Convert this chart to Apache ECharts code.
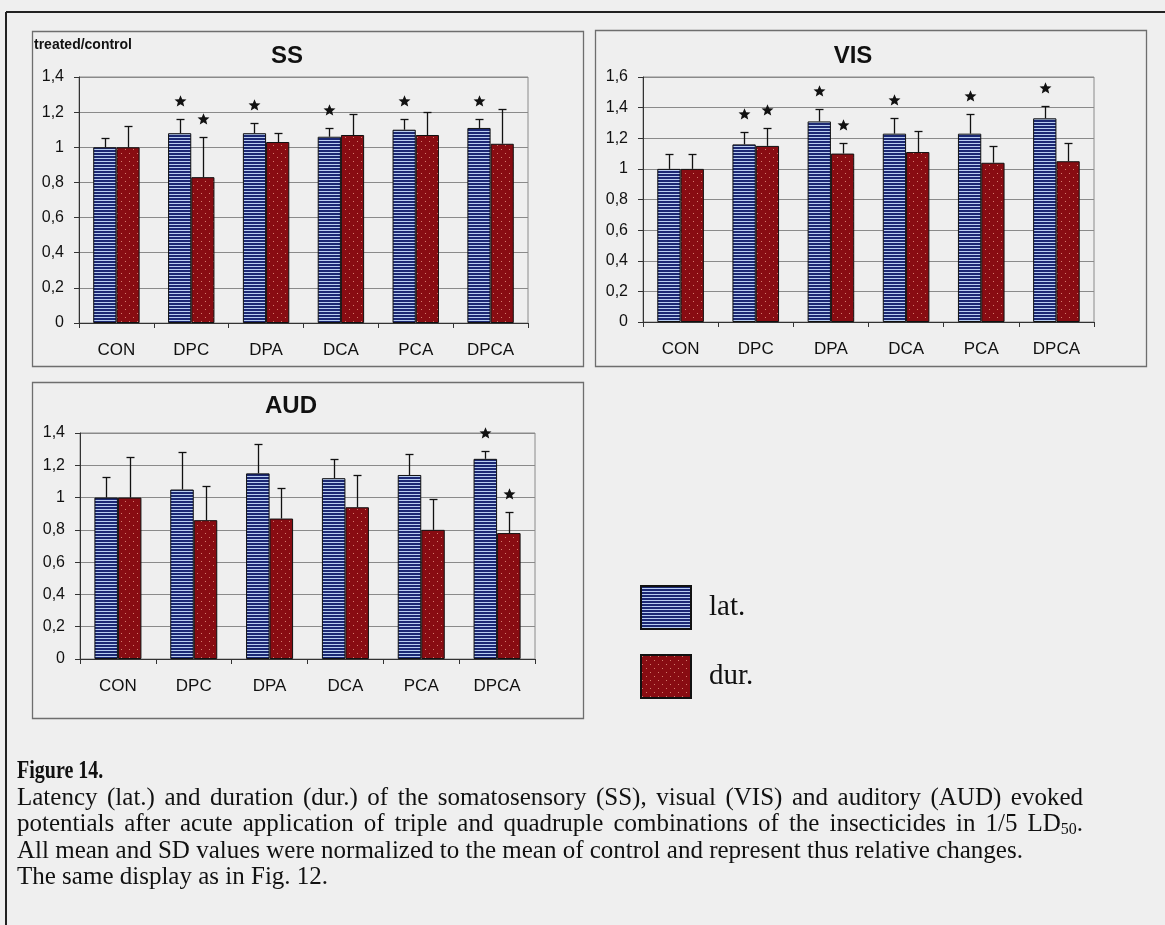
<!DOCTYPE html>
<html>
<head>
<meta charset="utf-8">
<script src="https://cdn.jsdelivr.net/npm/echarts@6/dist/echarts.min.js"></script>
<style>
  html, body { margin: 0; padding: 0; background: #efefef; }
  #chart { width: 1165px; height: 925px; }
</style>
</head>
<body>
<div id="chart"></div>
<script>
// ---------------- DATA ----------------
const categories = ['CON', 'DPC', 'DPA', 'DCA', 'PCA', 'DPCA'];
const seriesNames = ['lat.', 'dur.'];

// SS
const ssLat    = [1.00, 1.08, 1.08, 1.06, 1.10, 1.11];
const ssLatSD  = [0.05, 0.08, 0.06, 0.05, 0.06, 0.05];
const ssDur    = [1.00, 0.83, 1.03, 1.07, 1.07, 1.02];
const ssDurSD  = [0.12, 0.23, 0.05, 0.12, 0.13, 0.20];
const ssLatSig = [0, 1, 1, 1, 1, 1];
const ssDurSig = [0, 1, 0, 0, 0, 0];

// VIS
const visLat    = [1.00, 1.16, 1.31, 1.23, 1.23, 1.33];
const visLatSD  = [0.10, 0.08, 0.08, 0.10, 0.13, 0.08];
const visDur    = [1.00, 1.15, 1.10, 1.11, 1.04, 1.05];
const visDurSD  = [0.10, 0.12, 0.07, 0.14, 0.11, 0.12];
const visLatSig = [0, 1, 1, 1, 1, 1];
const visDurSig = [0, 1, 1, 0, 0, 0];

// AUD
const audLat    = [1.00, 1.05, 1.15, 1.12, 1.14, 1.24];
const audLatSD  = [0.13, 0.23, 0.18, 0.12, 0.13, 0.05];
const audDur    = [1.00, 0.86, 0.87, 0.94, 0.80, 0.78];
const audDurSD  = [0.25, 0.21, 0.19, 0.20, 0.19, 0.13];
const audLatSig = [0, 0, 0, 0, 0, 1];
const audDurSig = [0, 0, 0, 0, 0, 1];

// axis ticks
const ssTicks  = { min: 0, max: 1.4, interval: 0.2 };
const visTicks = { min: 0, max: 1.6, interval: 0.2 };
const audTicks = { min: 0, max: 1.4, interval: 0.2 };

const yAxisUnit = 'treated/control';
const panelTitles = ['SS', 'VIS', 'AUD'];
const captionTitle = 'Figure 14.';
const captionLines = [
  'Latency (lat.) and duration (dur.) of the somatosensory (SS), visual (VIS) and auditory (AUD) evoked',
  'potentials after acute application of triple and quadruple combinations of the insecticides in 1/5 LD{sub|50}.',
  'All mean and SD values were normalized to the mean of control and represent thus relative changes.',
  'The same display as in Fig. 12.'
];
const captionJustify = [true, true, false, false];

// ---------------- STYLE ----------------
const CAT_GAP = 0.38;
function makeStripe() {
  const c = document.createElement('canvas');
  c.width = 3; c.height = 3;
  const g = c.getContext('2d');
  g.fillStyle = '#b8cdf0'; g.fillRect(0, 0, 3, 3);
  g.fillStyle = '#1b2874'; g.fillRect(0, 0, 3, 2);
  return c;
}
function makeDots() {
  const c = document.createElement('canvas');
  c.width = 8; c.height = 8;
  const g = c.getContext('2d');
  g.fillStyle = '#880c12'; g.fillRect(0, 0, 8, 8);
  g.fillStyle = 'rgba(235,160,140,0.75)';
  g.fillRect(1, 1, 1, 1);
  g.fillRect(5, 5, 1, 1);
  return c;
}
const latColor = { image: makeStripe(), repeat: 'repeat' };
const durColor = { image: makeDots(), repeat: 'repeat' };

const fontSans = '"Liberation Sans", Arial, sans-serif';
const fontNarrow = '"Liberation Sans Narrow", "Liberation Sans", Arial, sans-serif';
const fontSerif = '"Liberation Serif", "Times New Roman", serif';

const grids = [
  { left: 79,  top: 77,  width: 449, height: 246 },
  { left: 643, top: 77,  width: 451, height: 245 },
  { left: 80,  top: 433, width: 455, height: 226 }
];

function fmt(v) { return String(+v.toFixed(1)).replace('.', ','); }

function yAxisFor(idx, ticks) {
  return {
    type: 'value', gridIndex: idx, min: ticks.min, max: ticks.max, interval: ticks.interval,
    axisLine: { show: true, lineStyle: { color: '#333', width: 1 } },
    axisTick: { show: true, length: 5, lineStyle: { color: '#333' } },
    axisLabel: { formatter: fmt, fontFamily: fontNarrow, fontSize: 16, color: '#111', margin: 15 },
    splitLine: { show: true, lineStyle: { color: '#8a8a8a', width: 1 } }
  };
}
function xAxisFor(idx) {
  return {
    type: 'category', gridIndex: idx, data: categories,
    axisLine: { show: true, lineStyle: { color: '#333', width: 1 } },
    axisTick: { show: true, length: 5, lineStyle: { color: '#333' } },
    axisLabel: { fontFamily: fontNarrow, fontSize: 17, color: '#111', margin: 19 }
  };
}

function barSeries(name, idx, data, color) {
  return {
    type: 'bar', name: name, xAxisIndex: idx, yAxisIndex: idx, data: data,
    barGap: '0%', barCategoryGap: (CAT_GAP * 100) + '%',
    itemStyle: { color: color, borderColor: '#111', borderWidth: 1 },
    emphasis: { disabled: true }, animation: false, z: 2
  };
}

function errSeries(idx, means, sds, sig, side) {
  const data = means.map((m, i) => [i, m, m + sds[i], sig[i]]);
  return {
    type: 'custom', xAxisIndex: idx, yAxisIndex: idx, data: data, z: 5, silent: true, animation: false,
    renderItem: function (params, api) {
      const i = api.value(0);
      const p0 = api.coord([i, api.value(1)]);
      const p1 = api.coord([i, api.value(2)]);
      const band = api.size([1, 0])[0];
      const bw = band * (1 - CAT_GAP) / 2;
      const x = Math.round(p0[0] + side * bw / 2) + 0.5;
      const yTop = Math.round(p1[1]) + 0.5;
      const children = [
        { type: 'line', shape: { x1: x, y1: p0[1], x2: x, y2: yTop }, style: { stroke: '#111', lineWidth: 1.3 } },
        { type: 'line', shape: { x1: x - 4, y1: yTop, x2: x + 4, y2: yTop }, style: { stroke: '#111', lineWidth: 1.3 } }
      ];
      if (api.value(3)) {
        const cy = yTop - 18, R = 6.3, r = 2.8, pts = [];
        for (let k = 0; k < 10; k++) {
          const a = -Math.PI / 2 + k * Math.PI / 5;
          const rr = (k % 2 === 0) ? R : r;
          pts.push([x + rr * Math.cos(a), cy + rr * Math.sin(a)]);
        }
        children.push({ type: 'polygon', shape: { points: pts }, style: { fill: '#111' } });
      }
      return { type: 'group', children: children };
    }
  };
}

const panels = [
  { means: [ssLat, ssDur],  sds: [ssLatSD, ssDurSD],  sig: [ssLatSig, ssDurSig],  ticks: ssTicks },
  { means: [visLat, visDur], sds: [visLatSD, visDurSD], sig: [visLatSig, visDurSig], ticks: visTicks },
  { means: [audLat, audDur], sds: [audLatSD, audDurSD], sig: [audLatSig, audDurSig], ticks: audTicks }
];

const series = [];
panels.forEach((p, idx) => {
  series.push(barSeries(seriesNames[0], idx, p.means[0], latColor));
  series.push(barSeries(seriesNames[1], idx, p.means[1], durColor));
  series.push(errSeries(idx, p.means[0], p.sds[0], p.sig[0], -1));
  series.push(errSeries(idx, p.means[1], p.sds[1], p.sig[1], 1));
});

const frameStyle = { fill: 'none', stroke: '#6e6e6e', lineWidth: 1.3 };
const titleStyle = { fontFamily: fontSans, fontWeight: 'bold', fontSize: 24, fill: '#111', textAlign: 'center', textVerticalAlign: 'middle' };

const graphic = [
  // outer frame (top + left)
  { type: 'line', shape: { x1: 6, y1: 12, x2: 1165, y2: 12 }, style: { stroke: '#222', lineWidth: 2 } },
  { type: 'line', shape: { x1: 6, y1: 12, x2: 6, y2: 925 }, style: { stroke: '#222', lineWidth: 2 } },
  // panel frames
  { type: 'rect', shape: { x: 32.5, y: 31.5, width: 551, height: 335 }, style: frameStyle },
  { type: 'rect', shape: { x: 595.5, y: 30.5, width: 551, height: 336 }, style: frameStyle },
  { type: 'rect', shape: { x: 32.5, y: 382.5, width: 551, height: 336 }, style: frameStyle },
  // titles
  { type: 'text', x: 287, y: 56, style: Object.assign({ text: panelTitles[0] }, titleStyle) },
  { type: 'text', x: 853, y: 56, style: Object.assign({ text: panelTitles[1] }, titleStyle) },
  { type: 'text', x: 291, y: 406, style: Object.assign({ text: panelTitles[2] }, titleStyle) },
  // unit label
  { type: 'text', x: 34, y: 45, style: { text: yAxisUnit, fontFamily: fontSans, fontWeight: 'bold', fontSize: 14, fill: '#111', textVerticalAlign: 'middle' } },
  // caption title
  { type: 'text', x: 17, y: 772, scaleX: 0.8, style: { text: captionTitle, fontFamily: fontSerif, fontWeight: 'bold', fontSize: 25, fill: '#111', textVerticalAlign: 'middle' } }
];

// caption body: first two lines justified (as in the printed paragraph)
const CAP_FS = 25, CAP_SUB_FS = 16, CAP_SCALE = 1.0, CAP_WIDTH = 1066;
const mctx = document.createElement('canvas').getContext('2d');
function measure(str, fs) { mctx.font = fs + 'px "Liberation Serif"'; return mctx.measureText(str).width; }
captionLines.forEach((t, i) => {
  const rich = { sub: { fontFamily: fontSerif, fontSize: CAP_SUB_FS, fill: '#111', padding: [10, 0, 0, 0] } };
  let text = t;
  if (captionJustify[i]) {
    let w = 0;
    t.split(/(\{sub\|[^}]*\})/).forEach(p => {
      const m = p.match(/^\{sub\|(.*)\}$/);
      w += m ? measure(m[1], CAP_SUB_FS) : measure(p, CAP_FS);
    });
    const nSp = (t.match(/ /g) || []).length;
    const spW = measure(' ', CAP_FS) + Math.max(0, (CAP_WIDTH / CAP_SCALE - w) / nSp);
    rich.sp = { fontFamily: fontSerif, fontSize: CAP_FS, width: spW };
    text = t.replace(/ /g, '{sp| }');
  }
  graphic.push({
    type: 'text', x: 17, y: 798 + i * 26.5, scaleX: CAP_SCALE,
    style: { text: text, fontFamily: fontSerif, fontSize: CAP_FS, fill: '#111', textVerticalAlign: 'middle', rich: rich }
  });
});

const chart = echarts.init(document.getElementById('chart'), null, { renderer: 'canvas' });
chart.setOption({
  backgroundColor: '#efefef',
  animation: false,
  grid: grids.map(g => Object.assign({ show: true, borderColor: '#8a8a8a', borderWidth: 1, backgroundColor: 'transparent' }, g)),
  xAxis: [xAxisFor(0), xAxisFor(1), xAxisFor(2)],
  yAxis: [yAxisFor(0, ssTicks), yAxisFor(1, visTicks), yAxisFor(2, audTicks)],
  legend: {
    data: seriesNames, orient: 'vertical', left: 640, top: 585, padding: 0,
    itemWidth: 50, itemHeight: 43, itemGap: 24, icon: 'rect',
    selectedMode: false,
    textStyle: { fontFamily: fontSerif, fontSize: 29, color: '#111', padding: [0, 0, 0, 13] }
  },
  series: series,
  graphic: graphic
});
</script>
</body>
</html>
